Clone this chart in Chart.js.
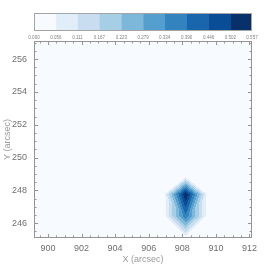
<!DOCTYPE html>
<html><head><meta charset="utf-8">
<script src="https://cdn.jsdelivr.net/npm/chart.js@4/dist/chart.umd.min.js"></script>
<style>
html,body{margin:0;padding:0;background:#fff;}
#wrap{position:relative;width:273px;height:273px;}
#main,#cbar{position:absolute;left:0;top:0;}
</style></head><body>
<div id="wrap">
<canvas id="main" width="273" height="273"></canvas>
<canvas id="cbar" width="273" height="45"></canvas>
</div>
<script>
// ---- data ----
const gridX = [906.8, 908.2, 909.6];
const gridY = [248.92, 247.77, 246.43, 245.0];
const gridZ = [
  [0, 0,     0],
  [0, 0.557, 0],
  [0, 0.38,  0],
  [0, 0,     0]
];
const levels = [0.000, 0.056, 0.111, 0.167, 0.223, 0.279, 0.334, 0.390, 0.446, 0.502, 0.557];
const levelColors = ['#f7fbff','#e1edf8','#c9ddf0','#a6cee4','#7db8da','#549fcd','#3383be','#1966ad','#084d96','#08306b'];
const xTickLabels = [900, 902, 904, 906, 908, 910, 912];
const yTickLabels = [246, 248, 250, 252, 254, 256];
const xRange = [899.17, 912.15];
const yRange = [245.1, 257.1];
const minorStep = 0.5;

Chart.defaults.font.family = "'Liberation Sans', Arial, sans-serif";

function interp(vx, vy) {
  let i = -1, j = -1;
  for (let k = 0; k < gridX.length - 1; k++) if (vx >= gridX[k] && vx <= gridX[k+1]) { i = k; break; }
  for (let k = 0; k < gridY.length - 1; k++) if (vy <= gridY[k] && vy >= gridY[k+1]) { j = k; break; }
  if (i < 0 || j < 0) return 0;
  const u = (vx - gridX[i]) / (gridX[i+1] - gridX[i]);
  const w = (gridY[j] - vy) / (gridY[j] - gridY[j+1]);
  const TL = gridZ[j][i], TR = gridZ[j][i+1], BL = gridZ[j+1][i], BR = gridZ[j+1][i+1];
  const m = Math.max(TL, TR, BL, BR);
  const diagTLBR = !(TL === m || BR === m);
  if (diagTLBR) {
    if (u >= w) return TL + (TR - TL) * u + (BR - TR) * w;
    return TL + (BL - TL) * w + (BR - BL) * u;
  } else {
    if (u + w <= 1) return TL + (TR - TL) * u + (BL - TL) * w;
    return BR + (BL - BR) * (1 - u) + (TR - BR) * (1 - w);
  }
}
function band(v) {
  let k = 0;
  for (let n = 0; n < levels.length - 1; n++) if (v >= levels[n]) k = n;
  return Math.min(k, levelColors.length - 1);
}

const fieldPlugin = {
  id: 'field',
  beforeDatasetsDraw(chart) {
    const {ctx, chartArea: a, scales: {x, y}} = chart;
    ctx.save();
    ctx.fillStyle = levelColors[0];
    ctx.fillRect(a.left, a.top, a.right - a.left, a.bottom - a.top);
    const px0 = Math.max(Math.floor(x.getPixelForValue(gridX[0])), Math.floor(a.left));
    const px1 = Math.min(Math.ceil(x.getPixelForValue(gridX[gridX.length-1])), Math.ceil(a.right));
    const py0 = Math.max(Math.floor(y.getPixelForValue(gridY[0])), Math.floor(a.top));
    const py1 = Math.min(Math.ceil(y.getPixelForValue(gridY[gridY.length-1])), Math.ceil(a.bottom));
    for (let py = py0; py < py1; py++) {
      for (let px = px0; px < px1; px++) {
        const v = interp(x.getValueForPixel(px + 0.5), y.getValueForPixel(py + 0.5));
        const k = band(v);
        if (k > 0) { ctx.fillStyle = levelColors[k]; ctx.fillRect(px, py, 1, 1); }
      }
    }
    ctx.restore();
  }
};

const framePlugin = {
  id: 'frame',
  afterDatasetsDraw(chart) {
    const {ctx, chartArea: a, scales: {x, y}} = chart;
    ctx.save();
    ctx.strokeStyle = '#959595';
    ctx.lineWidth = 1;
    ctx.strokeRect(Math.round(a.left) + 0.5, Math.round(a.top) + 0.5, Math.round(a.right - a.left) - 1, Math.round(a.bottom - a.top) - 1);
    ctx.beginPath();
    const maj = 4, mnr = 2.5;
    for (let v = Math.ceil(xRange[0] / minorStep) * minorStep; v <= xRange[1]; v += minorStep) {
      const isMaj = xTickLabels.includes(Math.round(v * 100) / 100);
      const L = isMaj ? maj : mnr;
      const p = Math.round(x.getPixelForValue(v)) + 0.5;
      ctx.moveTo(p, a.bottom); ctx.lineTo(p, a.bottom - L);
      ctx.moveTo(p, a.top); ctx.lineTo(p, a.top + L);
    }
    for (let v = Math.ceil(yRange[0] / minorStep) * minorStep; v <= yRange[1]; v += minorStep) {
      const isMaj = yTickLabels.includes(Math.round(v * 100) / 100);
      const L = isMaj ? maj : mnr;
      const p = Math.round(y.getPixelForValue(v)) + 0.5;
      ctx.moveTo(a.left, p); ctx.lineTo(a.left + L, p);
      ctx.moveTo(a.right, p); ctx.lineTo(a.right - L, p);
    }
    ctx.stroke();
    ctx.restore();
  }
};

const gridNodes = [];
gridY.forEach((gy, j) => gridX.forEach((gx, i) => gridNodes.push({x: gx, y: gy, z: gridZ[j][i]})));

new Chart(document.getElementById('main'), {
  type: 'scatter',
  data: {datasets: [{data: gridNodes, pointRadius: 0, showLine: false}]},
  options: {
    responsive: false, animation: false,
    layout: {padding: {left: 0, top: 41, right: 21, bottom: 0}},
    plugins: {legend: {display: false}, tooltip: {enabled: false}},
    scales: {
      x: {
        type: 'linear', min: xRange[0], max: xRange[1],
        afterBuildTicks: s => { s.ticks = xTickLabels.map(v => ({value: v})); },
        afterFit: s => { s.height = 35; },
        grid: {display: false, drawTicks: false}, border: {display: false},
        ticks: {padding: 5, color: '#6e6e6e', font: {size: 9}, maxRotation: 0, autoSkip: false, callback: v => String(v)},
        title: {display: true, text: 'X (arcsec)', color: '#999', font: {size: 9}, padding: {top: 0, bottom: 8}}
      },
      y: {
        type: 'linear', min: yRange[0], max: yRange[1],
        afterBuildTicks: s => { s.ticks = yTickLabels.map(v => ({value: v})); },
        afterFit: s => { s.width = 34; },
        grid: {display: false, drawTicks: false}, border: {display: false},
        ticks: {padding: 7, color: '#6e6e6e', font: {size: 9}, autoSkip: false, callback: v => String(v)},
        title: {display: true, text: 'Y (arcsec)', color: '#999', font: {size: 9}, padding: {top: 2, bottom: 0}}
      }
    }
  },
  plugins: [fieldPlugin, framePlugin]
});

const outlinePlugin = {
  id: 'outline',
  afterDatasetsDraw(chart) {
    const {ctx, chartArea: a} = chart;
    ctx.save();
    ctx.strokeStyle = '#a5a5a5';
    ctx.lineWidth = 1;
    ctx.strokeRect(Math.round(a.left) + 0.5, Math.round(a.top) + 0.5, Math.round(a.right - a.left) - 1, Math.round(a.bottom - a.top) - 1);
    ctx.restore();
  }
};

new Chart(document.getElementById('cbar'), {
  type: 'bar',
  data: {
    labels: [''],
    datasets: levelColors.map((c, i) => ({
      data: [[levels[i], levels[i+1]]], backgroundColor: c, borderWidth: 0,
      barPercentage: 1, categoryPercentage: 1, grouped: false
    }))
  },
  options: {
    indexAxis: 'y', responsive: false, animation: false,
    layout: {padding: {left: 34, top: 13, right: 21, bottom: 0}},
    plugins: {legend: {display: false}, tooltip: {enabled: false}},
    scales: {
      x: {
        type: 'linear', min: levels[0], max: levels[levels.length-1],
        afterBuildTicks: s => { s.ticks = levels.map(v => ({value: v})); },
        afterFit: s => { s.height = 14; },
        grid: {display: false, drawTicks: false}, border: {display: false},
        ticks: {padding: 4, color: '#808080', font: {size: 4.5}, maxRotation: 0, autoSkip: false, callback: v => Number(v).toFixed(3)}
      },
      y: {display: false}
    }
  },
  plugins: [outlinePlugin]
});
</script>
</body></html>
